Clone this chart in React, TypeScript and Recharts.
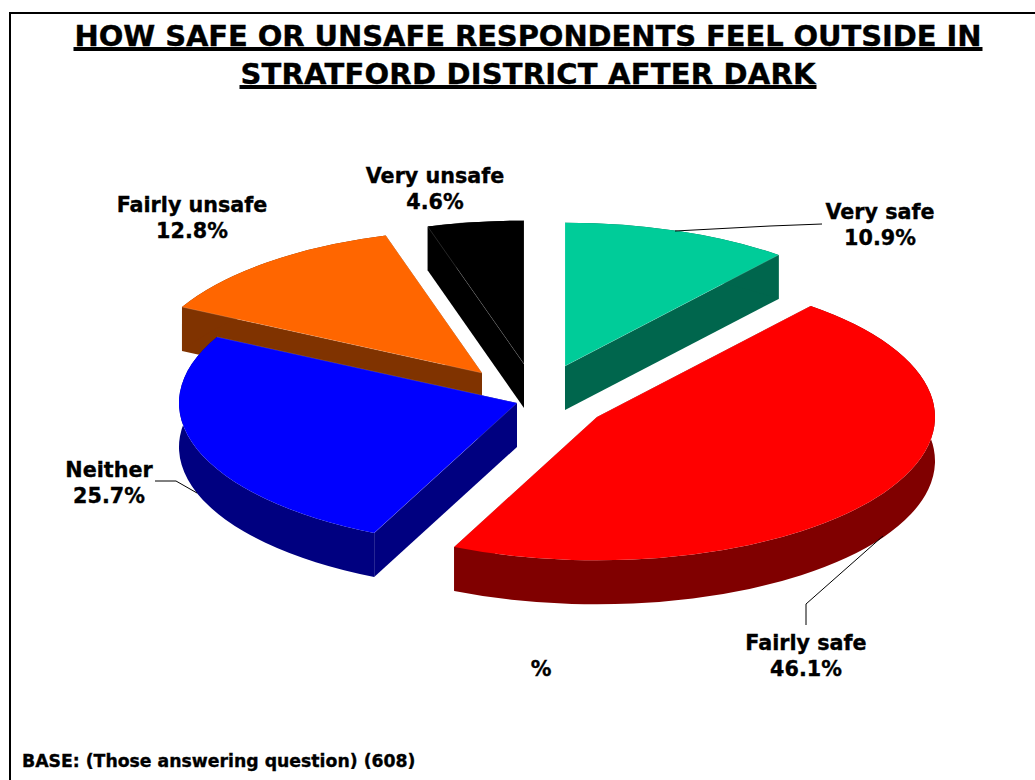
import { PieChart, Pie } from 'recharts';

const FONT = '"DejaVu Sans", Verdana, sans-serif';

// drawn back to front, running counter-clockwise from 12 o'clock
const CATEGORIES = ['Very unsafe', 'Fairly unsafe', 'Neither', 'Fairly safe', 'Very safe'];
const VALUES = [4.6, 12.8, 25.7, 46.1, 10.9];

const TOP_COLORS = ['#000000', '#FF6600', '#0000FF', '#FF0000', '#00CC99'];
const WALL_COLORS = ['#000000', '#803300', '#000080', '#800000', '#00664D'];

// how far each slice is pulled out of the pie, in px
const SHIFT_X = [-31, -73, -38, 42, 10];
const SHIFT_Y = [-31, -22, 8, 22, -29];

const LABEL_X = [435, 192, 109, 806, 880];
const LABEL_Y = [183, 212, 477, 650, 219];
const LEADERS = [
  '',
  '',
  'M155 481 L176 481 L197 493',
  'M883 536 L806 604 L806 625',
  'M675 231 L770 226 L822 224',
];

const TITLE_LINES = ['HOW SAFE OR UNSAFE RESPONDENTS FEEL OUTSIDE IN', 'STRATFORD DISTRICT AFTER DARK'];
const TITLE_WIDTHS = [907, 575];

const chartData = CATEGORIES.map((name, i) => ({ name, value: VALUES[i] }));

const SQUASH = 0.424;
const DEPTH = 44;
const LABEL_SIZE = 20.7;

function Slice3D(props: any) {
  const { cx, cy, outerRadius, startAngle, endAngle, index } = props;
  const ax = cx + SHIFT_X[index];
  const ay = cy + SHIFT_Y[index];
  const rx = outerRadius;
  const ry = outerRadius * SQUASH;
  const pt = (deg: number, drop = 0) => {
    const r = (deg * Math.PI) / 180;
    return `${ax + rx * Math.cos(r)} ${ay - ry * Math.sin(r) + drop}`;
  };
  const large = Math.abs(endAngle - startAngle) > 180 ? 1 : 0;
  const top = `M${ax} ${ay} L${pt(startAngle)} A${rx} ${ry} 0 ${large} 0 ${pt(endAngle)} Z`;
  const band = `M${pt(startAngle)} A${rx} ${ry} 0 ${large} 0 ${pt(endAngle)} L${pt(endAngle, DEPTH)} A${rx} ${ry} 0 ${large} 1 ${pt(startAngle, DEPTH)} Z`;
  const edge = (deg: number) => `M${ax} ${ay} L${pt(deg)} L${pt(deg, DEPTH)} L${ax} ${ay + DEPTH} Z`;
  const wall = WALL_COLORS[index];
  return (
    <g>
      <path d={edge(startAngle)} fill={wall} />
      <path d={edge(endAngle)} fill={wall} />
      <path d={band} fill={wall} />
      <path d={top} fill={TOP_COLORS[index]} />
      <path
        d={`M${pt(startAngle)} L${ax} ${ay} L${pt(endAngle)}`}
        fill="none"
        stroke="#fff"
        strokeOpacity={0.25}
        strokeWidth={0.6}
      />
    </g>
  );
}

function BoldText({ children, size = LABEL_SIZE, ...rest }: any) {
  return (
    <text
      fontFamily={FONT}
      fontWeight="bold"
      fontSize={size}
      fill="#000"
      stroke="#000"
      strokeWidth={0.35}
      {...rest}
    >
      {children}
    </text>
  );
}

function SliceLabel(props: any) {
  const { index } = props;
  const x = LABEL_X[index];
  const y = LABEL_Y[index];
  return (
    <g>
      {LEADERS[index] && <path d={LEADERS[index]} fill="none" stroke="#000" strokeWidth={1} />}
      <BoldText x={x} y={y} textAnchor="middle">
        {CATEGORIES[index]}
      </BoldText>
      <BoldText x={x} y={y + 26} textAnchor="middle">
        {VALUES[index].toFixed(1)}%
      </BoldText>
    </g>
  );
}

export default function App() {
  return (
    <div style={{ position: 'absolute', left: 0, top: 0, width: 1035, height: 780, background: '#fff', overflow: 'hidden' }}>
      <PieChart width={1035} height={780} margin={{ top: 0, right: 0, bottom: 0, left: 0 }}>
        <Pie
          data={chartData}
          dataKey="value"
          nameKey="name"
          cx={555}
          cy={395}
          outerRadius={338}
          startAngle={90}
          endAngle={450}
          paddingAngle={0}
          stroke="none"
          isAnimationActive={false}
          shape={Slice3D}
          label={SliceLabel}
          labelLine={false}
        />
        <path d="M10 780 L10 13 L1035 13" fill="none" stroke="#000" strokeWidth={2} />
        {TITLE_LINES.map((line, i) => (
          <g key={line}>
            <BoldText
              x={528}
              y={46 + i * 38}
              textAnchor="middle"
              size={29}
              textLength={TITLE_WIDTHS[i]}
              lengthAdjust="spacing"
            >
              {line}
            </BoldText>
            <line
              x1={528 - TITLE_WIDTHS[i] / 2 - 1}
              x2={528 + TITLE_WIDTHS[i] / 2 + 1}
              y1={49 + i * 38}
              y2={49 + i * 38}
              stroke="#000"
              strokeWidth={4}
            />
          </g>
        ))}
        <BoldText x={541} y={676} textAnchor="middle">
          %
        </BoldText>
        <BoldText x={22} y={767} size={17.3}>
          BASE: (Those answering question) (608)
        </BoldText>
      </PieChart>
    </div>
  );
}
